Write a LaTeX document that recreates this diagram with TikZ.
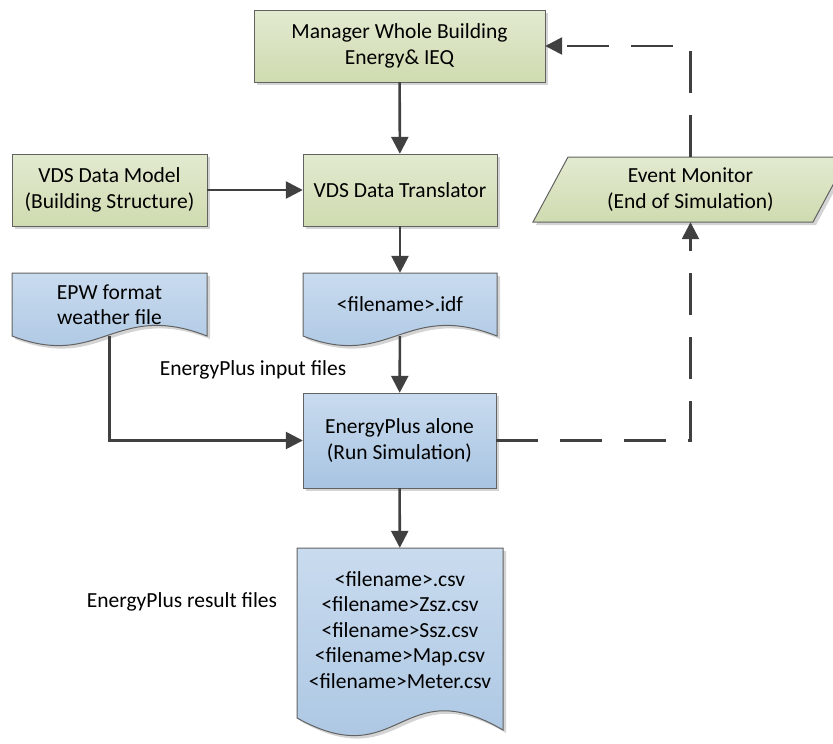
\documentclass[tikz,border=0pt]{standalone}
\usepackage{fontspec}
\setmainfont{Carlito}
\usetikzlibrary{arrows.meta}
\definecolor{gtop}{HTML}{E2EAD0}
\definecolor{gbot}{HTML}{CFDBB0}
\definecolor{btop}{HTML}{C9DBEE}
\definecolor{bbot}{HTML}{A8C4E2}
\definecolor{edge}{HTML}{626262}
\definecolor{linec}{HTML}{404040}
\definecolor{shade}{HTML}{D4D4D4}
\tikzset{
  txt/.style={font=\fontsize{21.5}{25.5}\selectfont, align=center, text=black, inner sep=0pt},
  shapeline/.style={draw=edge, line width=1pt},
  gfill/.style={shapeline, top color=gtop, bottom color=gbot},
  bfill/.style={shapeline, top color=btop, bottom color=bbot},
  shadowfill/.style={fill=shade, draw=none},
  conn/.style={draw=linec, line width=2.6pt, -{Triangle[length=17pt,width=17pt]}},
  dconn/.style={conn, dash pattern=on 42pt off 22pt},
}
\begin{document}
\begin{tikzpicture}[x=1pt,y=-1pt]
\useasboundingbox (0,0) rectangle (833,744);
% ---------- shadows ----------
\begin{scope}[shift={(3,3)}]
  \fill[shadowfill] (254,10) rectangle (545,82);
  \fill[shadowfill] (12,154) rectangle (207,226);
  \fill[shadowfill] (303,154) rectangle (497,226);
  \fill[shadowfill] (533,222) -- (568,157) -- (848,157) -- (813,222) -- cycle;
  \fill[shadowfill] (12,273) -- (207,273) -- (207,336) .. controls (115,300) and (100,370) .. (12,336) -- cycle;
  \fill[shadowfill] (303,273) -- (497,273) -- (497,336) .. controls (405,300) and (390,370) .. (303,336) -- cycle;
  \fill[shadowfill] (303,393) rectangle (496,488);
  \fill[shadowfill] (297,548) -- (503,548) -- (503,730) .. controls (400,670) and (400,775) .. (297,718) -- cycle;
\end{scope}
% ---------- shapes ----------
\path[gfill] (254,10) rectangle (545,82);
\path[gfill] (12,154) rectangle (207,226);
\path[gfill] (303,154) rectangle (497,226);
\path[gfill] (533,222) -- (568,157) -- (848,157) -- (813,222) -- cycle;
\path[bfill] (12,273) -- (207,273) -- (207,336) .. controls (115,300) and (100,370) .. (12,336) -- cycle;
\path[bfill] (303,273) -- (497,273) -- (497,336) .. controls (405,300) and (390,370) .. (303,336) -- cycle;
\path[bfill] (303,393) rectangle (496,488);
\path[bfill] (297,548) -- (503,548) -- (503,730) .. controls (400,670) and (400,775) .. (297,718) -- cycle;
% ---------- text nodes ----------
\node[txt, minimum width=291pt, minimum height=72pt] (mgr) at (399.5,46) {Manager Whole Building\\Energy\& IEQ};
\node[txt, minimum width=195pt, minimum height=72pt] (model) at (109.5,190) {VDS Data Model\\(Building Structure)};
\node[txt, minimum width=194pt, minimum height=72pt] (trans) at (400,190) {VDS Data Translator};
\node[txt, minimum width=245pt, minimum height=65pt] (ev) at (690.5,189.5) {Event Monitor\\(End of Simulation)};
\node[txt, minimum width=195pt, minimum height=63pt] (epw) at (109.5,304.5) {EPW format\\weather file};
\node[txt, minimum width=194pt, minimum height=63pt] (idf) at (400,304.5) {<filename>.idf};
\node[txt, minimum width=193pt, minimum height=95pt] (ep) at (399.5,440.5) {EnergyPlus alone\\(Run Simulation)};
\node[txt, minimum width=206pt, minimum height=164pt] (res) at (400,630) {<filename>.csv\\<filename>Zsz.csv\\<filename>Ssz.csv\\<filename>Map.csv\\<filename>Meter.csv};
\node[txt] (inlbl) at (253,370) {EnergyPlus input files};
\node[txt] (reslbl) at (182,602) {EnergyPlus result files};
% ---------- connectors ----------
\draw[conn] (mgr) -- (trans);
\draw[conn] (model) -- (trans);
\draw[conn] (trans) -- (idf);
\draw[conn] (idf) -- (ep);
\draw[conn] (epw.south) |- (ep.west);
\draw[conn] (ep) -- (res);
\draw[dconn] (ep.east) -| (ev.south);
\draw[dconn] (ev.north) |- (mgr.east);
\end{tikzpicture}
\end{document}
